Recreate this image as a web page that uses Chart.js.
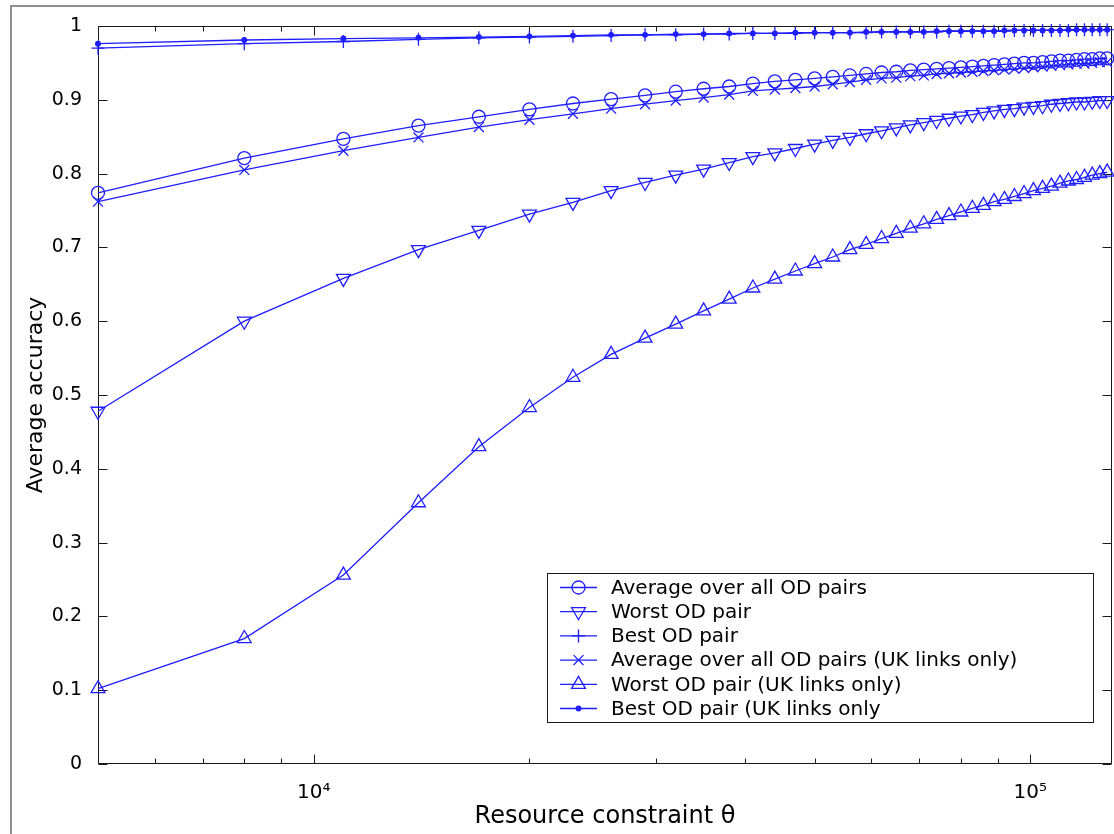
<!DOCTYPE html>
<html><head><meta charset="utf-8">
<script src="https://cdn.jsdelivr.net/npm/chart.js@4.4.1/dist/chart.umd.min.js"></script>
<style>
html,body{margin:0;padding:0;background:#fff;}
#wrap{position:relative;width:1114px;height:834px;overflow:hidden;background:#fff;}
#frame{position:absolute;left:10px;top:5px;width:2000px;height:2000px;border-left:2px solid #8e8e8e;border-top:2px solid #8e8e8e;}
canvas{position:absolute;left:0;top:0;}
</style></head><body>
<div id="wrap"><div id="frame"></div><canvas id="c" width="1114" height="834"></canvas></div>
<script>
// ---- data ----
const theta = [5000, 8000, 11000, 14000, 17000, 20000, 23000, 26000, 29000, 32000, 35000, 38000, 41000, 44000, 47000, 50000, 53000, 56000, 59000, 62000, 65000, 68000, 71000, 74000, 77000, 80000, 83000, 86000, 89000, 92000, 95000, 98000, 101000, 104000, 107000, 110000, 113000, 116000, 119000, 122000, 125000, 128000];

const avgAll = [0.774, 0.821, 0.847, 0.865, 0.877, 0.887, 0.895, 0.901, 0.906, 0.911, 0.915, 0.918,
  0.922, 0.925, 0.927, 0.929, 0.931, 0.933, 0.935, 0.937, 0.938, 0.940,
  0.941, 0.942, 0.943, 0.944, 0.945, 0.946, 0.947, 0.948, 0.949, 0.950,
  0.950, 0.951, 0.952, 0.953, 0.953, 0.954, 0.955, 0.955, 0.956, 0.956];

const worstOD = [0.478, 0.600, 0.658, 0.697, 0.723, 0.745, 0.761, 0.777, 0.788, 0.798, 0.806, 0.815,
  0.823, 0.828, 0.834, 0.840, 0.845, 0.849, 0.854, 0.858, 0.862, 0.866,
  0.869, 0.872, 0.875, 0.878, 0.880, 0.883, 0.885, 0.887, 0.888, 0.890,
  0.891, 0.892, 0.894, 0.895, 0.896, 0.897, 0.897, 0.898, 0.899, 0.899];

const bestOD = [0.970, 0.976, 0.979, 0.982, 0.984, 0.985, 0.986, 0.987, 0.988, 0.988,
  0.989, 0.989, 0.990, 0.990, 0.990, 0.991, 0.991, 0.991, 0.991, 0.992,
  0.992, 0.992, 0.992, 0.992, 0.993, 0.993, 0.993, 0.993, 0.993, 0.993,
  0.994, 0.994, 0.994, 0.994, 0.994, 0.994, 0.994, 0.995, 0.995, 0.995,
  0.995, 0.995];

const avgUK = [0.762, 0.805, 0.831, 0.849, 0.863, 0.873, 0.881, 0.888, 0.894, 0.899, 0.903, 0.907,
  0.912, 0.914, 0.916, 0.918, 0.921, 0.924, 0.927, 0.929, 0.930, 0.932,
  0.933, 0.935, 0.936, 0.937, 0.938, 0.939, 0.940, 0.941, 0.942, 0.943,
  0.944, 0.945, 0.946, 0.947, 0.948, 0.949, 0.949, 0.950, 0.951, 0.951];

const worstUK = [0.102, 0.170, 0.256, 0.354, 0.430, 0.483, 0.524, 0.555, 0.577, 0.596, 0.614, 0.630,
  0.645, 0.657, 0.668, 0.678, 0.687, 0.697, 0.704, 0.712, 0.719, 0.726,
  0.732, 0.738, 0.743, 0.748, 0.753, 0.757, 0.762, 0.765, 0.769, 0.773,
  0.777, 0.780, 0.783, 0.787, 0.790, 0.792, 0.795, 0.798, 0.800, 0.802];

const bestUK = [0.976, 0.981, 0.983, 0.984, 0.985, 0.986, 0.987, 0.988, 0.988, 0.989,
  0.989, 0.990, 0.990, 0.990, 0.991, 0.991, 0.991, 0.991, 0.992, 0.992,
  0.992, 0.992, 0.992, 0.993, 0.993, 0.993, 0.993, 0.993, 0.993, 0.994,
  0.994, 0.994, 0.994, 0.994, 0.994, 0.994, 0.995, 0.995, 0.995, 0.995,
  0.995, 0.995];

const seriesLabels = [
  'Average over all OD pairs',
  'Worst OD pair',
  'Best OD pair',
  'Average over all OD pairs (UK links only)',
  'Worst OD pair (UK links only)',
  'Best OD pair (UK links only'
];
const xTickValues = [10000, 100000];
const xTickLabels = ['10\u2074', '10\u2075'];
const xMinorTicks = [6000, 7000, 8000, 9000, 20000, 30000, 40000, 50000, 60000, 70000, 80000, 90000];
const xTitle = 'Resource constraint \u03b8';
const yTitle = 'Average accuracy';

// ---- styles ----
const BLUE = 'rgb(30,30,255)';
const FONT = "'DejaVu Sans', 'Liberation Sans', sans-serif";
const markerStyles = [
  {pointStyle: 'circle', radius: 6.5, rotation: 0, fill: false},
  {pointStyle: 'triangle', radius: 8, rotation: 180, fill: false},
  {pointStyle: 'cross', radius: 6.5, rotation: 0, fill: false},
  {pointStyle: 'crossRot', radius: 7, rotation: 0, fill: false},
  {pointStyle: 'triangle', radius: 8, rotation: 0, fill: false},
  {pointStyle: 'circle', radius: 2.3, rotation: 0, fill: true}
];
const seriesValues = [avgAll, worstOD, bestOD, avgUK, worstUK, bestUK];

function makeDataset(i) {
  const st = markerStyles[i];
  return {
    label: seriesLabels[i],
    data: theta.map((t, k) => ({x: t, y: seriesValues[i][k]})),
    borderColor: BLUE,
    backgroundColor: BLUE,
    borderWidth: 1.3,
    pointStyle: st.pointStyle,
    pointRadius: st.radius,
    pointHoverRadius: st.radius,
    pointRotation: st.rotation,
    pointBorderColor: BLUE,
    pointBackgroundColor: st.fill ? BLUE : 'rgba(0,0,0,0)',
    pointBorderWidth: 1.3,
    tension: 0,
    fill: false,
    clip: false
  };
}

const axesBox = {
  id: 'axesBox',
  beforeDatasetsDraw(chart) {
    const {ctx, chartArea: a, scales: {x, y}} = chart;
    ctx.save();
    ctx.strokeStyle = '#1a1a1a';
    ctx.lineWidth = 1;
    const L = Math.round(a.left) + 0.5, T = Math.round(a.top) + 0.5;
    const R = Math.round(a.right) - 0.5, B = Math.round(a.bottom) - 0.5;
    ctx.strokeRect(L, T, R - L, B - T);
    ctx.beginPath();
    y.ticks.forEach(t => {
      const py = Math.round(y.getPixelForValue(t.value)) + 0.5;
      ctx.moveTo(L, py); ctx.lineTo(L + 9, py);
      ctx.moveTo(R, py); ctx.lineTo(R - 9, py);
    });
    const tick = (v, len) => {
      const px = Math.round(x.getPixelForValue(v)) + 0.5;
      ctx.moveTo(px, B); ctx.lineTo(px, B - len);
      ctx.moveTo(px, T); ctx.lineTo(px, T + len);
    };
    xTickValues.forEach(v => tick(v, 9));
    xMinorTicks.forEach(v => tick(v, 5));
    ctx.stroke();
    ctx.restore();
  }
};

const boxLegend = {
  id: 'boxLegend',
  afterDatasetsDraw(chart) {
    const ctx = chart.ctx;
    const L = 547, T = 573, R = 1093, B = 722;
    ctx.save();
    ctx.fillStyle = '#fff';
    ctx.fillRect(L, T, R - L, B - T);
    ctx.strokeStyle = '#1a1a1a';
    ctx.lineWidth = 1;
    ctx.strokeRect(L + 0.5, T + 0.5, R - L, B - T);
    chart.data.datasets.forEach((ds, i) => {
      const cy = 587.5 + i * 24.2;
      ctx.strokeStyle = BLUE;
      ctx.lineWidth = 1.3;
      ctx.beginPath(); ctx.moveTo(560, cy); ctx.lineTo(597, cy); ctx.stroke();
      const st = markerStyles[i];
      ctx.fillStyle = st.fill ? BLUE : 'rgba(0,0,0,0)';
      ctx.strokeStyle = BLUE;
      ctx.lineWidth = 1.3;
      Chart.helpers.drawPoint(ctx, {pointStyle: st.pointStyle, radius: st.radius, rotation: st.rotation, borderWidth: 1.3}, 578.5, cy);
      ctx.fillStyle = '#000';
      ctx.font = "20px " + FONT;
      ctx.textBaseline = 'middle';
      ctx.textAlign = 'left';
      ctx.fillText(ds.label, 611, cy + 1);
    });
    ctx.restore();
  }
};

new Chart(document.getElementById('c'), {
  type: 'line',
  data: {datasets: seriesLabels.map((_, i) => makeDataset(i))},
  options: {
    responsive: false,
    animation: false,
    devicePixelRatio: 1,
    layout: {autoPadding: false, padding: {top: 26, right: 2, left: 0, bottom: 0}},
    plugins: {legend: {display: false}, tooltip: {enabled: false}},
    scales: {
      x: {
        type: 'logarithmic', bounds: 'data', min: 5000, max: 130000,
        grid: {display: false}, border: {display: false},
        afterBuildTicks(s) { s.ticks = xTickValues.map(v => ({value: v, major: true})); },
        afterFit(s) { s.height = 70; s.paddingLeft = 0; s.paddingRight = 0; },
        ticks: {
          autoSkip: false, maxRotation: 0, minRotation: 0, padding: 9, color: '#000',
          font: {family: FONT, size: 20},
          callback(v) { const i = xTickValues.indexOf(v); return i >= 0 ? xTickLabels[i] : ''; }
        },
        title: {display: true, text: xTitle, color: '#000', font: {family: FONT, size: 24}, padding: {top: 0, bottom: 3}}
      },
      y: {
        min: 0, max: 1,
        grid: {display: false}, border: {display: false},
        afterFit(s) { s.width = 98; s.paddingTop = 0; s.paddingBottom = 0; },
        ticks: {stepSize: 0.1, padding: 8, color: '#000', font: {family: FONT, size: 19},
          callback: v => String(Math.round(v * 10) / 10)},
        title: {display: true, text: yTitle, color: '#000', font: {family: FONT, size: 22}, padding: {top: 23, bottom: 0}}
      }
    }
  },
  plugins: [axesBox, boxLegend]
});
</script>
</body></html>
